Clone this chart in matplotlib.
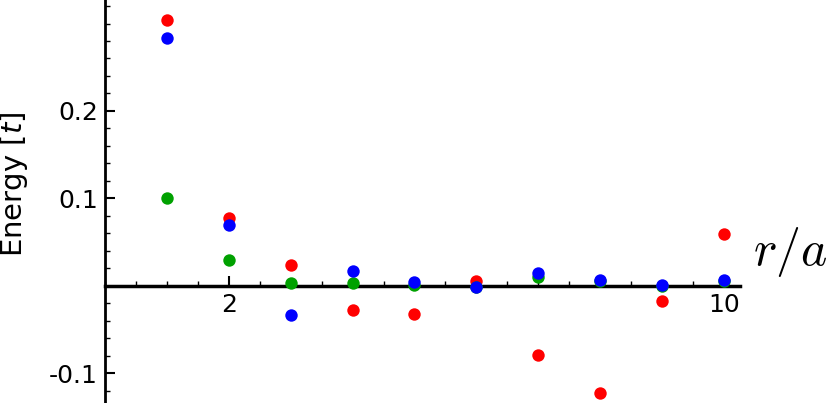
import matplotlib
matplotlib.use("Agg")
import matplotlib.pyplot as plt
from matplotlib.ticker import MultipleLocator, FixedLocator

x = [1, 2, 3, 4, 5, 6, 7, 8, 9, 10]
red = [0.304, 0.0773, 0.024, -0.0274, -0.032, 0.006, -0.0789, -0.122, -0.017, 0.059]
green = [0.1006, 0.0297, 0.0038, 0.0038, 0.001, -0.001, 0.0106, 0.005, 0.0, 0.005]
blue = [0.283, 0.0697, -0.033, 0.0175, 0.0042, -0.001, 0.015, 0.0069, 0.001, 0.007]

xticks_major = [2, 10]
yticks_major = [-0.1, 0.1, 0.2]
ytick_labels = ["-0.1", "0.1", "0.2"]

fig = plt.figure(figsize=(8.3, 4.03), dpi=100)
ax = fig.add_axes([105/830, 0, 635/830, 1])
ax.set_xlim(0, 10.26)
ax.set_ylim(-0.134, 0.3269)

ms = 80
ax.scatter(x, red, s=ms, color=(1, 0, 0), zorder=3, linewidths=0)
ax.scatter(x, green, s=ms, color=(0, 0.63, 0), zorder=3, linewidths=0)
ax.scatter(x, blue, s=ms, color=(0, 0, 1), zorder=3, linewidths=0)

for s in ["top", "right"]:
    ax.spines[s].set_visible(False)
ax.spines["left"].set_position(("data", 0))
ax.spines["bottom"].set_position(("data", 0))
ax.spines["left"].set_linewidth(2)
ax.spines["bottom"].set_linewidth(2.5)

ax.xaxis.set_major_locator(FixedLocator(xticks_major))
ax.xaxis.set_minor_locator(MultipleLocator(0.5))
ax.set_xticklabels([str(v) for v in xticks_major])
ax.yaxis.set_major_locator(FixedLocator(yticks_major))
ax.yaxis.set_minor_locator(MultipleLocator(0.02))
ax.set_yticklabels(ytick_labels)

ax.tick_params(axis="both", which="major", direction="in", length=7, width=1.5, labelsize=18, pad=5)
ax.tick_params(axis="both", which="minor", direction="in", length=3.5, width=1)

fig.text(14.5/830, 1 - 184.5/403, r"Energy $[t]$", fontsize=21, rotation=90,
         ha="center", va="center")
ax.text(790/830, 1 - 252/403, r"$r/a$", transform=fig.transFigure, fontsize=36,
        ha="center", va="center", math_fontfamily="cm")

fig.savefig("out.png", dpi=100)
